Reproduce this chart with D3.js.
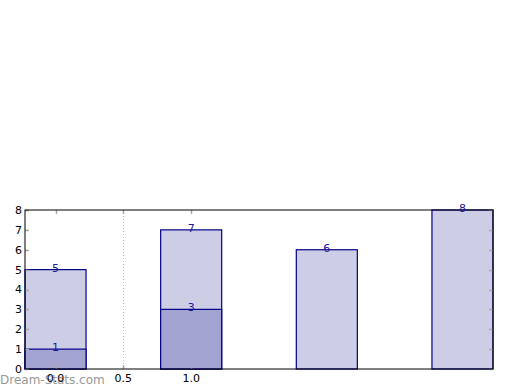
<!DOCTYPE html>
<html>
<head>
<meta charset="utf-8">
<script src="https://cdn.jsdelivr.net/npm/d3@7"></script>
<style>
  body { margin: 0; background: #fff; }
  text { font-family: "DejaVu Sans", sans-serif; }
</style>
</head>
<body>
<div id="container"></div>
<script>
// data
const positions = [0, 1, 2, 3];
const backValues = [5, 7, 6, 8];
const frontPositions = [0, 1];
const frontValues = [1, 3];
const xTickValues = [0, 0.5, 1.0];
const xTickLabels = ["0.0", "0.5", "1.0"];
const yTickValues = [0, 1, 2, 3, 4, 5, 6, 7, 8];

const width = 520, height = 390,
  margin = {top: 210, bottom: 21, left: 25, right: 27},
  barWidth = 0.45;

const svg = d3.select("#container").append("svg")
  .attr("width", width)
  .attr("height", height);

const xScale = d3.scaleLinear()
  .domain([-barWidth / 2, 3 + barWidth / 2])
  .range([margin.left, width - margin.right]);

const yScale = d3.scaleLinear()
  .domain([0, 8])
  .range([height - margin.bottom, margin.top]);

const x0 = xScale.range()[0], x1 = xScale.range()[1];
const y0 = yScale.range()[0], y1 = yScale.range()[1];

// dotted grid line at 0.5
svg.append("line")
  .attr("x1", Math.round(xScale(0.5)) + 0.5).attr("x2", Math.round(xScale(0.5)) + 0.5)
  .attr("y1", y1).attr("y2", y0)
  .attr("stroke", "#bbb")
  .attr("stroke-dasharray", "1,2");

// back bars
svg.selectAll("rect.back")
  .data(positions)
  .join("rect")
  .attr("class", "back")
  .attr("x", d => xScale(d - barWidth / 2))
  .attr("width", xScale(barWidth) - xScale(0))
  .attr("y", (d, i) => yScale(backValues[i]))
  .attr("height", (d, i) => yScale(0) - yScale(backValues[i]))
  .attr("fill", "#cdcde6")
  .attr("stroke", "#000088")
  .attr("stroke-width", 1.2);

// front bars
svg.selectAll("rect.front")
  .data(frontPositions)
  .join("rect")
  .attr("class", "front")
  .attr("x", d => xScale(d - barWidth / 2))
  .attr("width", xScale(barWidth) - xScale(0))
  .attr("y", (d, i) => yScale(frontValues[i]))
  .attr("height", (d, i) => yScale(0) - yScale(frontValues[i]))
  .attr("fill", "#a3a3d1")
  .attr("stroke", "#000088")
  .attr("stroke-width", 1.2);

// ticks (gray, inward)
const tickColor = "#aaa";
yTickValues.forEach(v => {
  const y = Math.round(yScale(v)) + 0.5;
  svg.append("line").attr("x1", x0).attr("x2", x0 + 4).attr("y1", y).attr("y2", y)
    .attr("stroke", tickColor).attr("stroke-width", 1.5);
  svg.append("line").attr("x1", x1 - 4).attr("x2", x1).attr("y1", y).attr("y2", y)
    .attr("stroke", tickColor).attr("stroke-width", 1.5);
});
xTickValues.forEach(v => {
  const x = Math.round(xScale(v)) + 0.5;
  svg.append("line").attr("x1", x).attr("x2", x).attr("y1", y0).attr("y2", y0 - 4)
    .attr("stroke", tickColor).attr("stroke-width", 1.5);
  svg.append("line").attr("x1", x).attr("x2", x).attr("y1", y1).attr("y2", y1 + 4)
    .attr("stroke", tickColor).attr("stroke-width", 1.5);
});

// frame
svg.append("rect")
  .attr("x", x0).attr("y", y1)
  .attr("width", x1 - x0).attr("height", y0 - y1)
  .attr("fill", "none")
  .attr("stroke", "#000")
  .attr("stroke-width", 1);

// y tick labels
svg.selectAll("text.ylab")
  .data(yTickValues)
  .join("text")
  .attr("class", "ylab")
  .attr("x", x0 - 3)
  .attr("y", d => yScale(d))
  .attr("dy", "0.36em")
  .attr("text-anchor", "end")
  .attr("font-size", "11px")
  .attr("fill", "#000")
  .text(d => d);

// watermark, sits under the x labels like in the original
svg.append("text")
  .attr("x", 0)
  .attr("y", 384)
  .attr("font-size", "12px")
  .attr("fill", "#999")
  .text("Dream-Stats.com");

// x tick labels
svg.selectAll("text.xlab")
  .data(xTickValues)
  .join("text")
  .attr("class", "xlab")
  .attr("x", d => xScale(d))
  .attr("y", y0 + 13)
  .attr("text-anchor", "middle")
  .attr("font-size", "11px")
  .attr("fill", "#000")
  .text((d, i) => xTickLabels[i]);

// value labels
const labelColor = "#1a1a99";
svg.selectAll("text.backlab")
  .data(positions)
  .join("text")
  .attr("class", "backlab")
  .attr("x", d => xScale(d))
  .attr("y", (d, i) => yScale(backValues[i]) + 2)
  .attr("text-anchor", "middle")
  .attr("font-size", "11px")
  .attr("fill", labelColor)
  .text((d, i) => backValues[i]);

svg.selectAll("text.frontlab")
  .data(frontPositions)
  .join("text")
  .attr("class", "frontlab")
  .attr("x", d => xScale(d))
  .attr("y", (d, i) => yScale(frontValues[i]) + 2)
  .attr("text-anchor", "middle")
  .attr("font-size", "11px")
  .attr("fill", labelColor)
  .text((d, i) => frontValues[i]);
</script>
</body>
</html>
